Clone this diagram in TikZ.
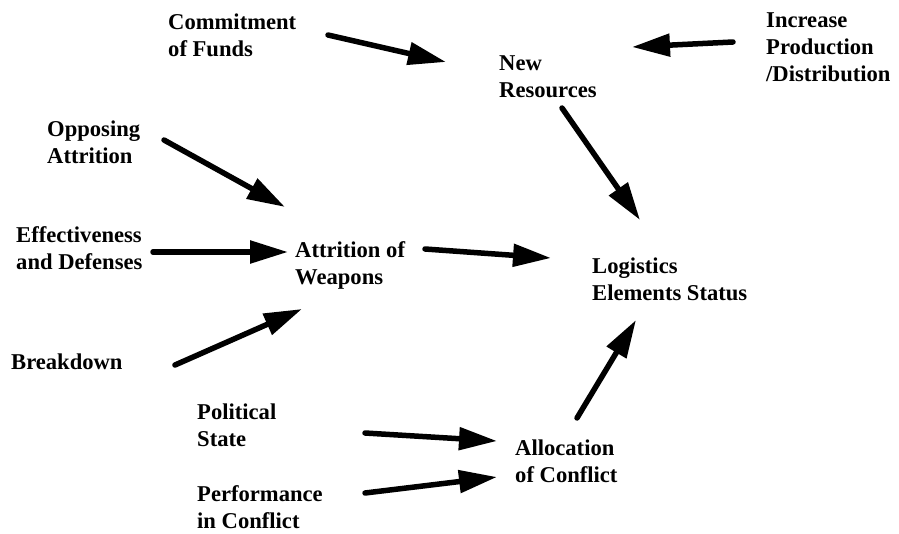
\documentclass[tikz,border=0pt]{standalone}
\usepackage{fontspec}
\setmainfont{Liberation Serif}
\usetikzlibrary{arrows.meta}
\begin{document}
\begin{tikzpicture}[x=1pt,y=-1pt,
  lbl/.style={anchor=base west,inner sep=0pt,align=left,font=\bfseries\fontsize{22.6}{27}\selectfont},
  arr/.style={line width=5.5pt,line cap=round,-{Triangle[length=38pt,width=22pt]}}]
\useasboundingbox (0,0) rectangle (899,533);
% anchors: baseline of the last line
\node[lbl] (cf) at (168,56) {Commitment\\of Funds};
\node[lbl] (nr) at (499,97) {New\\Resources};
\node[lbl] (ip) at (766,81) {Increase\\Production\\/Distribution};
\node[lbl] (oa) at (47,163) {Opposing\\Attrition};
\node[lbl] (ed) at (16,269) {Effectiveness\\and Defenses};
\node[lbl] (aw) at (295,284) {Attrition of\\Weapons};
\node[lbl] (ls) at (592,300) {Logistics\\Elements Status};
\node[lbl] (bd) at (11,369) {Breakdown};
\node[lbl] (ps) at (197,446) {Political\\State};
\node[lbl] (ac) at (515,482) {Allocation\\of Conflict};
\node[lbl] (pc) at (197,528) {Performance\\in Conflict};
\coordinate (cf1) at (328,35);  \coordinate (cf2) at (446,62);
\coordinate (ip1) at (733,42);  \coordinate (ip2) at (632,47);
\coordinate (nr1) at (562,108); \coordinate (nr2) at (640,220);
\coordinate (oa1) at (164,140); \coordinate (oa2) at (285,207);
\coordinate (ed1) at (153,252); \coordinate (ed2) at (288,252);
\coordinate (aw1) at (425,249); \coordinate (aw2) at (551,258);
\coordinate (bd1) at (175,365); \coordinate (bd2) at (302,309);
\coordinate (ps1) at (365,433); \coordinate (ps2) at (497,441);
\coordinate (pc1) at (365,493); \coordinate (pc2) at (497,477);
\coordinate (ac1) at (577,418); \coordinate (ac2) at (636,320);
\foreach \a in {cf,ip,nr,oa,ed,aw,bd,ps,pc,ac}{\draw[arr] (\a1) -- (\a2);}
\end{tikzpicture}
\end{document}
